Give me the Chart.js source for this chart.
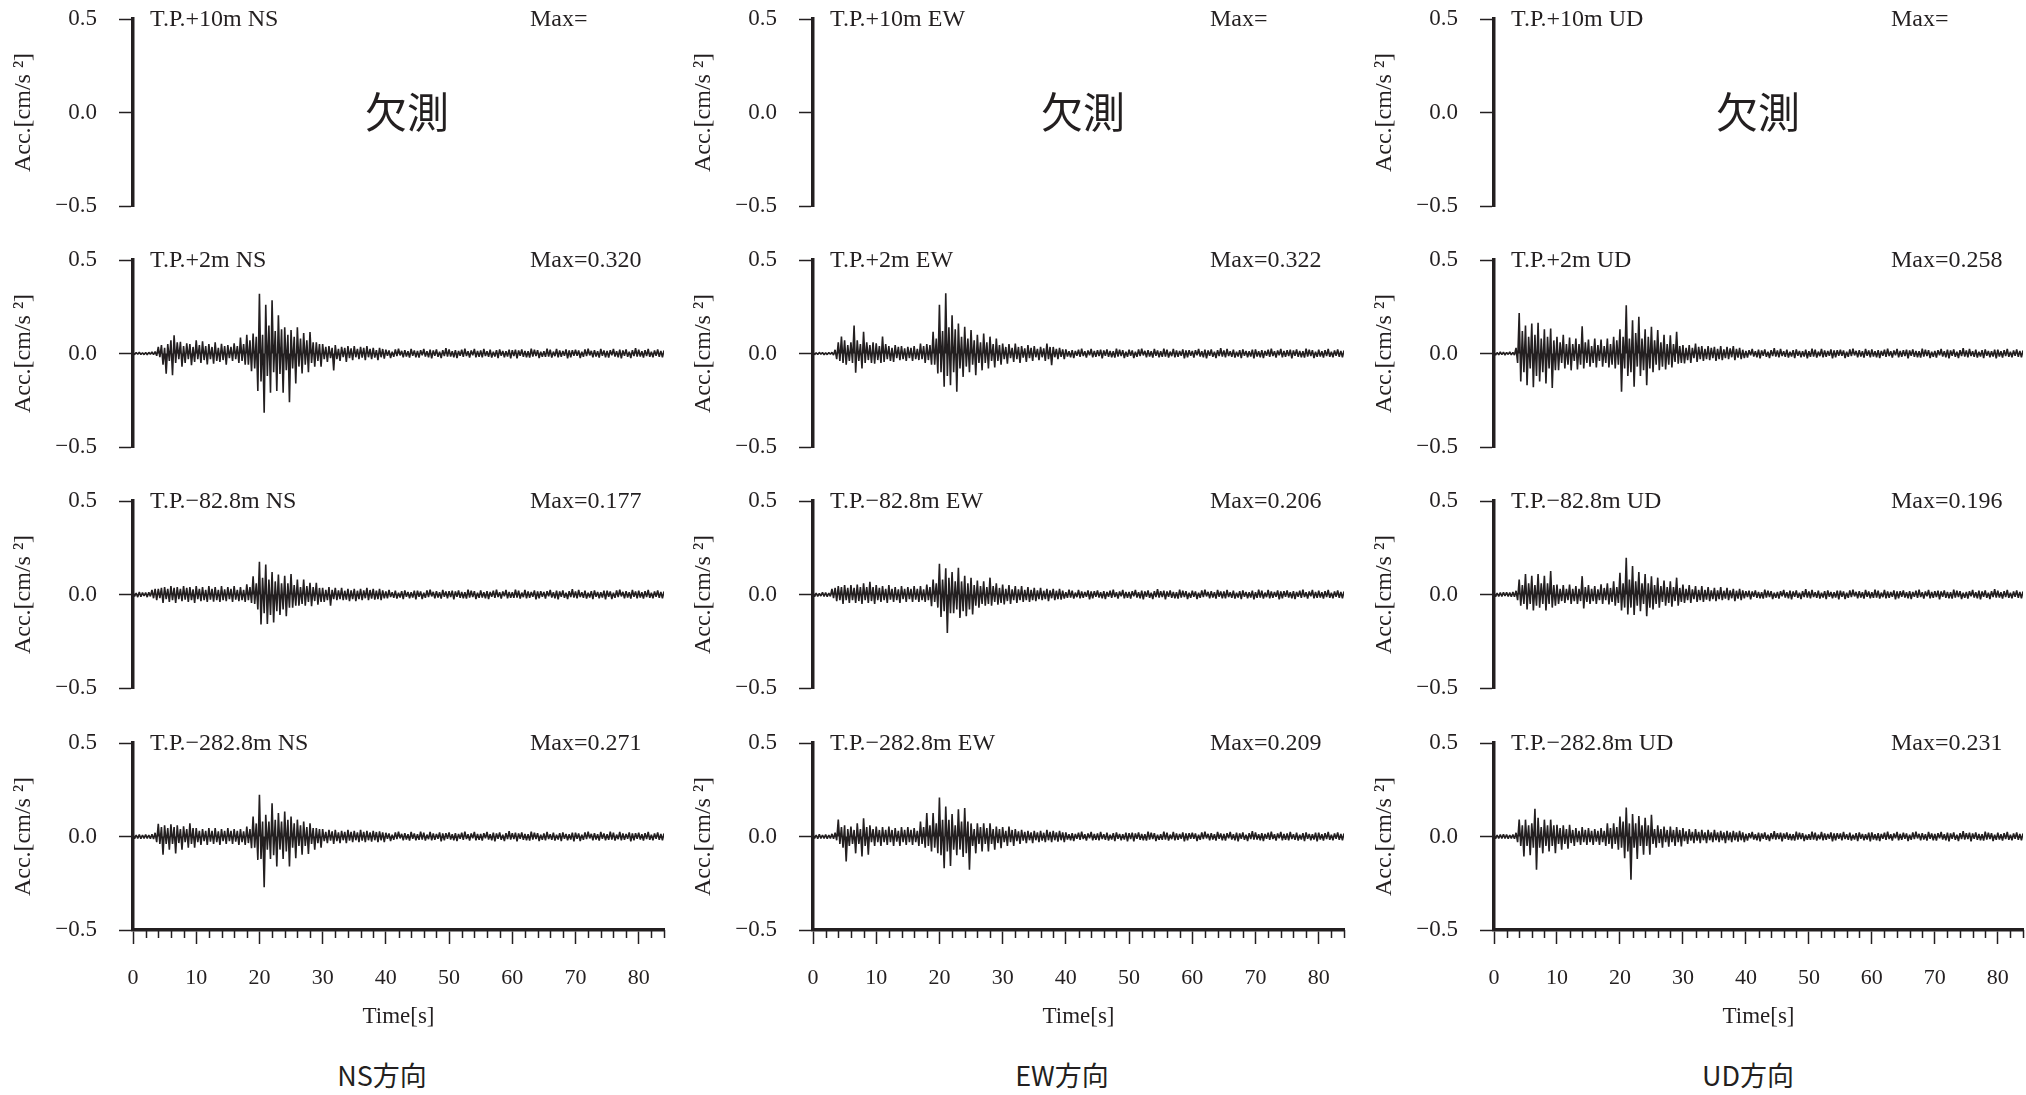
<!DOCTYPE html>
<html><head><meta charset="utf-8">
<script src="https://cdn.jsdelivr.net/npm/chart.js@4.4.1/dist/chart.umd.min.js"></script>
<style>
html,body{margin:0;padding:0;background:#fff;width:2026px;height:1095px;overflow:hidden;position:relative}
canvas{position:absolute}
.col{position:absolute;top:1059px;font-family:"Noto Sans CJK JP";font-size:27px;color:#231f20;transform:translateX(-50%);line-height:32px;white-space:nowrap}
</style></head><body>
<script>
// ---------- data ----------
const timeS = [
0,.25,.5,.75,1,1.25,1.5,1.75,2,2.25,2.5,2.75,3,3.25,3.5,3.75,4,4.25,4.5,4.75,
5,5.25,5.5,5.75,6,6.25,6.5,6.75,7,7.25,7.5,7.75,8,8.25,8.5,8.75,9,9.25,9.5,9.75,
10,10.25,10.5,10.75,11,11.25,11.5,11.75,12,12.25,12.5,12.75,13,13.25,13.5,13.75,14,14.25,14.5,14.75,
15,15.25,15.5,15.75,16,16.25,16.5,16.75,17,17.25,17.5,17.75,18,18.25,18.5,18.75,19,19.25,19.5,19.75,
20,20.25,20.5,20.75,21,21.25,21.5,21.75,22,22.25,22.5,22.75,23,23.25,23.5,23.75,24,24.25,24.5,24.75,
25,25.25,25.5,25.75,26,26.25,26.5,26.75,27,27.25,27.5,27.75,28,28.25,28.5,28.75,29,29.25,29.5,29.75,
30,30.25,30.5,30.75,31,31.25,31.5,31.75,32,32.25,32.5,32.75,33,33.25,33.5,33.75,34,34.25,34.5,34.75,
35,35.25,35.5,35.75,36,36.25,36.5,36.75,37,37.25,37.5,37.75,38,38.25,38.5,38.75,39,39.25,39.5,39.75,
40,40.25,40.5,40.75,41,41.25,41.5,41.75,42,42.25,42.5,42.75,43,43.25,43.5,43.75,44,44.25,44.5,44.75,
45,45.25,45.5,45.75,46,46.25,46.5,46.75,47,47.25,47.5,47.75,48,48.25,48.5,48.75,49,49.25,49.5,49.75,
50,50.25,50.5,50.75,51,51.25,51.5,51.75,52,52.25,52.5,52.75,53,53.25,53.5,53.75,54,54.25,54.5,54.75,
55,55.25,55.5,55.75,56,56.25,56.5,56.75,57,57.25,57.5,57.75,58,58.25,58.5,58.75,59,59.25,59.5,59.75,
60,60.25,60.5,60.75,61,61.25,61.5,61.75,62,62.25,62.5,62.75,63,63.25,63.5,63.75,64,64.25,64.5,64.75,
65,65.25,65.5,65.75,66,66.25,66.5,66.75,67,67.25,67.5,67.75,68,68.25,68.5,68.75,69,69.25,69.5,69.75,
70,70.25,70.5,70.75,71,71.25,71.5,71.75,72,72.25,72.5,72.75,73,73.25,73.5,73.75,74,74.25,74.5,74.75,
75,75.25,75.5,75.75,76,76.25,76.5,76.75,77,77.25,77.5,77.75,78,78.25,78.5,78.75,79,79.25,79.5,79.75,
80,80.25,80.5,80.75,81,81.25,81.5,81.75,82,82.25,82.5,82.75,83,83.25,83.5,83.75,84];

const depths = ['T.P.+10m','T.P.+2m','T.P.\u221282.8m','T.P.\u2212282.8m'];
const components = ['NS','EW','UD'];
const maxValues = [['','',''],['0.320','0.322','0.258'],['0.177','0.206','0.196'],['0.271','0.209','0.231']];
const columnTitles = ['NS方向','EW方向','UD方向'];
const missingText = '欠測';
const xTickLabels = ['0','10','20','30','40','50','60','70','80'];
const yTickValues = [-0.5, 0, 0.5];
const yTickText = ['\u22120.5','0.0','0.5'];
const yTitle = 'Acc.[cm/s \u00b2]';
const xTitle = 'Time[s]';

// quiet-coda segments (5 s each, 0.25 s steps), read as a ~±0.02 band
const coda1 = [.02,-.012,.016,-.024,.01,-.018,.022,-.014,.026,-.01,.014,-.02,.018,-.016,.012,-.022,.024,-.012,.016,-.02];
const coda2 = [.014,-.022,.018,-.01,.024,-.016,.012,-.02,.02,-.026,.016,-.012,.022,-.018,.01,-.024,.018,-.014,.028,-.016];
const coda3 = [.022,-.016,.012,-.02,.018,-.024,.014,-.012,.02,-.018,.026,-.014,.012,-.022,.016,-.01,.024,-.02,.014,-.018];
const coda4 = [.016,-.02,.024,-.014,.012,-.018,.02,-.022,.01,-.016,.018,-.024,.022,-.012,.014,-.02,.012,-.016,.02,-.026];
const coda5 = [.018,-.014,.02,-.026,.016,-.012,.022,-.018,.014,-.02,.012,-.022,.026,-.016,.02,-.014,.018,-.024,.01,-.018];
const coda6 = [.012,-.018,.026,-.016,.02,-.022,.01,-.014,.024,-.02,.016,-.018,.014,-.012,.022,-.026,.016,-.02,.018,-.012];
const codaEnd = [.02,-.016,.012,-.022,.018,-.014,.024,-.018,.01,-.02,.016,-.012,.022,-.018,.014,-.02,.016];

// T.P.+2m, 0-40 s
const ns2Head = [
.004,-.006,.005,-.004,.007,-.005,.004,-.006,.005,-.007,.006,-.004,.008,-.006,.01,-.012,.035,-.02,.045,-.06,
.03,-.108,.05,-.04,.07,-.116,.098,-.05,.06,-.03,.062,-.07,.04,-.05,.055,-.03,.05,-.062,.035,-.045,
.07,-.03,.045,-.05,.065,-.035,.04,-.058,.05,-.03,.035,-.055,.06,-.04,.03,-.045,.052,-.035,.04,-.06,
.045,-.025,.035,-.04,.055,-.03,.04,-.05,.085,-.04,.05,-.06,.1,-.06,.07,-.095,.107,-.08,.09,-.2,
.32,-.15,.1,-.317,.26,-.12,.15,-.21,.285,-.1,.12,-.2,.205,-.11,.13,-.21,.14,-.09,.1,-.26,
.125,-.08,.09,-.16,.14,-.07,.08,-.107,.11,-.06,.07,-.1,.115,-.05,.06,-.07,.06,-.04,.05,-.07,
.05,-.03,.035,-.045,.04,-.025,.03,-.09,.045,-.03,.025,-.04,.035,-.02,.03,-.045,.04,-.025,.028,-.035,
.04,-.02,.025,-.03,.035,-.022,.03,-.035,.04,-.02,.025,-.03,.03,-.022,.018,-.035,.03,-.02,.024,-.028];
const ew2Head = [
.005,-.006,.004,-.005,.006,-.004,.005,-.007,.004,-.006,.005,-.004,.006,-.008,.02,-.03,.06,-.04,.09,-.05,
.07,-.06,.045,-.04,.06,-.05,.15,-.103,.07,-.04,.05,-.08,.116,-.05,.06,-.035,.045,-.05,.06,-.055,
.055,-.035,.04,-.05,.09,-.045,.05,-.03,.04,-.04,.03,-.045,.045,-.025,.035,-.035,.04,-.03,.028,-.04,
.035,-.025,.03,-.04,.04,-.03,.025,-.035,.053,-.03,.04,-.05,.05,-.035,.045,-.06,.116,-.06,.08,-.107,
.26,-.1,.12,-.178,.322,-.12,.14,-.17,.205,-.1,.13,-.205,.16,-.08,.09,-.125,.143,-.07,.08,-.1,
.125,-.06,.07,-.116,.1,-.05,.06,-.09,.107,-.05,.06,-.08,.09,-.04,.05,-.075,.08,-.04,.045,-.06,
.053,-.03,.035,-.055,.05,-.025,.03,-.045,.053,-.03,.035,-.05,.04,-.022,.028,-.045,.045,-.025,.03,-.04,
.04,-.02,.025,-.035,.035,-.02,.028,-.04,.053,-.03,.035,-.062,.035,-.02,.025,-.03,.03,-.018,.022,-.03];
const ud2Head = [
.006,-.008,.005,-.007,.008,-.006,.007,-.008,.006,-.005,.008,-.007,.006,-.008,.03,-.05,.217,-.15,.12,-.1,
.15,-.17,.09,-.08,.16,-.18,.1,-.12,.164,-.15,.08,-.1,.13,-.16,.09,-.08,.134,-.184,.07,-.09,
.09,-.09,.06,-.05,.1,-.08,.05,-.06,.085,-.09,.05,-.04,.08,-.085,.05,-.06,.146,-.08,.06,-.05,
.075,-.07,.04,-.05,.08,-.075,.045,-.04,.075,-.07,.04,-.05,.08,-.075,.05,-.06,.09,-.08,.07,-.06,
.13,-.205,.09,-.08,.258,-.12,.08,-.1,.178,-.178,.11,-.07,.196,-.12,.08,-.09,.13,-.17,.09,-.08,
.143,-.1,.07,-.06,.125,-.09,.06,-.07,.1,-.085,.05,-.06,.098,-.075,.05,-.045,.116,-.055,.04,-.05,
.045,-.053,.03,-.035,.045,-.05,.03,-.025,.053,-.045,.035,-.03,.04,-.04,.025,-.03,.04,-.035,.03,-.025,
.035,-.04,.025,-.03,.04,-.035,.022,-.025,.035,-.03,.028,-.02,.04,-.035,.025,-.022,.03,-.03,.02,-.025];
// T.P.-82.8m, 0-40 s
const ns82Head = [
.012,-.01,.008,-.014,.014,-.012,.01,-.008,.01,-.014,.012,-.01,.025,-.02,.03,-.03,.03,-.02,.035,-.045,
.04,-.025,.03,-.04,.045,-.03,.035,-.045,.04,-.025,.03,-.035,.045,-.028,.035,-.04,.04,-.03,.028,-.045,
.045,-.025,.03,-.035,.04,-.03,.025,-.04,.045,-.028,.03,-.038,.04,-.03,.025,-.04,.045,-.03,.028,-.035,
.04,-.025,.03,-.04,.045,-.028,.025,-.035,.04,-.03,.025,-.04,.055,-.03,.04,-.045,.098,-.05,.06,-.08,
.175,-.16,.09,-.1,.16,-.157,.08,-.11,.12,-.15,.07,-.09,.107,-.11,.06,-.08,.1,-.116,.06,-.07,
.11,-.07,.05,-.06,.08,-.06,.04,-.05,.08,-.06,.045,-.04,.062,-.062,.04,-.035,.062,-.055,.035,-.04,
.035,-.04,.025,-.03,.04,-.06,.025,-.025,.035,-.03,.022,-.025,.035,-.03,.02,-.028,.03,-.035,.022,-.025,
.03,-.035,.02,-.025,.03,-.03,.022,-.02,.035,-.03,.024,-.022,.03,-.028,.02,-.025,.03,-.03,.022,-.02];
const ew82Head = [
.01,-.012,.008,-.01,.006,-.008,.012,-.01,.01,-.012,.008,-.01,.03,-.02,.035,-.035,.045,-.03,.04,-.05,
.05,-.03,.035,-.045,.05,-.03,.035,-.045,.053,-.035,.04,-.05,.06,-.03,.04,-.045,.068,-.035,.04,-.05,
.05,-.03,.035,-.04,.045,-.03,.03,-.045,.05,-.028,.03,-.04,.04,-.03,.028,-.045,.045,-.025,.03,-.04,
.04,-.025,.03,-.04,.045,-.028,.03,-.04,.045,-.03,.028,-.04,.053,-.03,.04,-.062,.08,-.04,.06,-.07,
.164,-.12,.08,-.09,.14,-.206,.09,-.1,.12,-.1,.07,-.08,.143,-.125,.07,-.09,.1,-.116,.06,-.08,
.09,-.107,.05,-.06,.075,-.07,.045,-.05,.07,-.06,.04,-.05,.09,-.06,.045,-.04,.06,-.055,.035,-.045,
.053,-.053,.03,-.035,.05,-.05,.028,-.03,.045,-.045,.028,-.03,.045,-.04,.025,-.03,.04,-.04,.025,-.03,
.035,-.035,.022,-.025,.035,-.03,.02,-.025,.03,-.035,.022,-.02,.03,-.03,.02,-.025,.03,-.028,.02,-.022];
const ud82Head = [
.01,-.012,.008,-.01,.01,-.01,.012,-.008,.012,-.01,.01,-.012,.014,-.012,.02,-.03,.08,-.06,.05,-.05,
.11,-.08,.06,-.05,.1,-.085,.05,-.06,.11,-.07,.06,-.05,.1,-.085,.06,-.05,.125,-.07,.05,-.06,
.053,-.05,.03,-.035,.05,-.045,.03,-.03,.053,-.05,.03,-.035,.045,-.05,.03,-.035,.098,-.075,.04,-.04,
.05,-.05,.03,-.035,.045,-.05,.028,-.03,.055,-.05,.035,-.03,.06,-.053,.035,-.04,.07,-.06,.04,-.045,
.116,-.085,.06,-.07,.196,-.107,.08,-.07,.152,-.11,.07,-.06,.12,-.09,.06,-.05,.11,-.116,.06,-.07,
.098,-.08,.05,-.05,.09,-.07,.045,-.04,.075,-.06,.04,-.045,.07,-.065,.04,-.035,.09,-.06,.035,-.04,
.053,-.045,.03,-.03,.05,-.045,.028,-.025,.045,-.04,.025,-.03,.045,-.04,.025,-.028,.04,-.035,.022,-.025,
.035,-.035,.022,-.025,.04,-.03,.02,-.022,.035,-.03,.022,-.02,.03,-.035,.02,-.022,.03,-.03,.022,-.02];
// T.P.-282.8m, 0-40 s
const ns282Head = [
.01,-.012,.008,-.01,.01,-.012,.008,-.01,.01,-.01,.008,-.012,.012,-.014,.02,-.03,.068,-.04,.05,-.098,
.06,-.04,.045,-.07,.065,-.04,.05,-.09,.06,-.035,.04,-.07,.055,-.03,.04,-.06,.07,-.04,.045,-.06,
.045,-.03,.03,-.045,.04,-.025,.03,-.045,.045,-.028,.03,-.04,.045,-.03,.028,-.045,.04,-.025,.03,-.04,
.045,-.025,.03,-.04,.04,-.028,.03,-.045,.04,-.03,.028,-.045,.053,-.035,.04,-.062,.107,-.06,.07,-.125,
.223,-.12,.08,-.271,.116,-.07,.08,-.12,.178,-.1,.09,-.16,.125,-.07,.08,-.12,.134,-.08,.09,-.16,
.107,-.06,.07,-.116,.09,-.05,.06,-.098,.08,-.05,.05,-.093,.07,-.04,.045,-.07,.045,-.035,.04,-.06,
.04,-.025,.025,-.035,.035,-.022,.028,-.04,.035,-.025,.022,-.035,.03,-.02,.025,-.035,.035,-.022,.025,-.03,
.03,-.02,.022,-.03,.035,-.022,.025,-.03,.03,-.02,.022,-.028,.03,-.02,.024,-.03,.028,-.02,.022,-.03];
const ew282Head = [
.01,-.01,.008,-.012,.012,-.01,.008,-.01,.01,-.012,.008,-.01,.014,-.012,.02,-.02,.09,-.04,.05,-.06,
.06,-.134,.04,-.05,.053,-.04,.035,-.09,.07,-.04,.04,-.107,.098,-.05,.05,-.098,.06,-.03,.04,-.05,
.053,-.03,.035,-.05,.05,-.03,.035,-.045,.053,-.03,.035,-.05,.045,-.028,.03,-.05,.05,-.03,.035,-.045,
.05,-.03,.035,-.045,.045,-.03,.03,-.05,.08,-.04,.05,-.06,.125,-.05,.06,-.08,.125,-.06,.07,-.09,
.209,-.1,.09,-.17,.16,-.08,.09,-.157,.12,-.07,.06,-.1,.146,-.07,.08,-.11,.152,-.09,.08,-.178,
.07,-.05,.04,-.09,.07,-.04,.05,-.08,.07,-.04,.045,-.08,.07,-.04,.04,-.07,.053,-.035,.04,-.062,
.05,-.03,.03,-.05,.053,-.03,.035,-.05,.04,-.025,.028,-.04,.035,-.022,.025,-.035,.03,-.02,.022,-.035,
.03,-.02,.022,-.03,.03,-.022,.02,-.03,.035,-.02,.025,-.03,.03,-.02,.022,-.028,.03,-.02,.022,-.03];
const ud282Head = [
.01,-.012,.008,-.01,.01,-.01,.012,-.01,.01,-.012,.008,-.01,.01,-.012,.02,-.03,.09,-.05,.06,-.107,
.09,-.05,.06,-.1,.07,-.06,.148,-.178,.1,-.06,.05,-.09,.09,-.05,.06,-.08,.09,-.05,.06,-.09,
.062,-.04,.045,-.07,.06,-.04,.04,-.065,.062,-.035,.035,-.05,.045,-.03,.03,-.045,.05,-.03,.035,-.045,
.045,-.03,.03,-.045,.04,-.028,.03,-.045,.045,-.03,.03,-.05,.07,-.04,.045,-.065,.07,-.04,.05,-.07,
.107,-.06,.08,-.116,.155,-.08,.07,-.231,.12,-.06,.07,-.12,.11,-.05,.06,-.098,.1,-.05,.06,-.098,
.116,-.04,.04,-.06,.06,-.035,.04,-.06,.053,-.03,.035,-.055,.053,-.03,.035,-.05,.05,-.03,.035,-.053,
.045,-.025,.028,-.04,.04,-.022,.025,-.035,.04,-.022,.025,-.035,.035,-.02,.022,-.035,.035,-.02,.022,-.03,
.035,-.02,.022,-.03,.03,-.02,.022,-.035,.03,-.02,.022,-.03,.03,-.02,.022,-.028,.03,-.02,.022,-.03];

// full records: 0-40 s head + 40-84 s coda segments
const ns2   = [...ns2Head,   ...coda1, ...coda2, ...coda3, ...coda4, ...coda5, ...coda6, ...coda1, ...coda2, ...codaEnd];
const ew2   = [...ew2Head,   ...coda3, ...coda5, ...coda1, ...coda6, ...coda2, ...coda4, ...coda3, ...coda5, ...codaEnd];
const ud2   = [...ud2Head,   ...coda2, ...coda4, ...coda6, ...coda1, ...coda3, ...coda5, ...coda2, ...coda4, ...codaEnd];
const ns82  = [...ns82Head,  ...coda4, ...coda1, ...coda5, ...coda3, ...coda6, ...coda2, ...coda4, ...coda1, ...codaEnd];
const ew82  = [...ew82Head,  ...coda6, ...coda3, ...coda2, ...coda5, ...coda1, ...coda4, ...coda6, ...coda3, ...codaEnd];
const ud82  = [...ud82Head,  ...coda5, ...coda2, ...coda4, ...coda1, ...coda6, ...coda3, ...coda5, ...coda2, ...codaEnd];
const ns282 = [...ns282Head, ...coda1, ...coda6, ...coda3, ...coda2, ...coda5, ...coda4, ...coda1, ...coda6, ...codaEnd];
const ew282 = [...ew282Head, ...coda3, ...coda4, ...coda5, ...coda6, ...coda1, ...coda2, ...coda3, ...coda4, ...codaEnd];
const ud282 = [...ud282Head, ...coda2, ...coda5, ...coda6, ...coda4, ...coda3, ...coda1, ...coda2, ...coda5, ...codaEnd];

const traces = [
  [null, null, null],
  [ns2, ew2, ud2],
  [ns82, ew82, ud82],
  [ns282, ew282, ud282]
];
traces.forEach((r, ri) => r.forEach((s, ci) => {
  if (s && s.length !== timeS.length) throw new Error('length mismatch row ' + ri + ' col ' + ci + ': ' + s.length + ' vs ' + timeS.length);
}));

// ---------- layout ----------
const INK = '#231f20';
const SERIF = '"Liberation Serif", "Times New Roman", serif';
const colLefts = [0, 680, 1361];
const canvasW = [667, 667, 665];
const rowTops = [0, 241, 482, 724];
const missX = [274, 270, 264];

const panelText = {
  id: 'panelText',
  afterDraw(chart, args, opts) {
    const {ctx, chartArea, scales} = chart;
    ctx.save();
    ctx.fillStyle = INK;
    ctx.font = '24px ' + SERIF;
    ctx.textBaseline = 'middle';
    ctx.textAlign = 'left';
    ctx.fillText(opts.station, chartArea.left + 17, chartArea.top + 1);
    ctx.fillText(opts.max, chartArea.left + 397, chartArea.top + 1);
    if (opts.missing) {
      ctx.font = '42px "Noto Sans CJK JP"';
      ctx.textAlign = 'center';
      ctx.fillText(opts.missing, chartArea.left + opts.missX, scales.y.getPixelForValue(0));
    }
    if (opts.minorTicks) {
      const xs = scales.x;
      ctx.strokeStyle = INK;
      ctx.lineWidth = 1.5;
      for (let v = 2; v <= 84; v += 2) {
        if (v % 10 === 0) continue;
        const px = Math.round(xs.getPixelForValue(v)) + 0.5;
        ctx.beginPath();
        ctx.moveTo(px, xs.top);
        ctx.lineTo(px, xs.top + 8);
        ctx.stroke();
      }
    }
    ctx.restore();
  }
};
Chart.register(panelText);

function makeChart(row, col) {
  const isBottom = row === 3;
  const cv = document.createElement('canvas');
  const h = isBottom ? 316 : 220;
  cv.width = canvasW[col];
  cv.height = h;
  cv.style.left = colLefts[col] + 'px';
  cv.style.top = rowTops[row] + 'px';
  cv.style.width = canvasW[col] + 'px';
  cv.style.height = h + 'px';
  document.body.appendChild(cv);
  const series = traces[row][col];
  const pts = series ? timeS.map((t, i) => ({x: t, y: series[i]})) : [];
  new Chart(cv, {
    type: 'line',
    data: {datasets: [{data: pts, borderColor: INK, backgroundColor: INK, borderWidth: 1.6, borderJoinStyle: 'bevel', pointRadius: 0, tension: 0, fill: 'origin'}]},
    options: {
      responsive: false, animation: false, devicePixelRatio: 1, events: [],
      layout: {padding: {top: 19, bottom: isBottom ? 0 : 14, left: 0, right: 3}},
      plugins: {
        legend: {display: false}, tooltip: {enabled: false}, title: {display: false},
        filler: {propagate: false},
        panelText: {
          station: depths[row] + ' ' + components[col],
          max: 'Max=' + maxValues[row][col],
          missing: series ? '' : missingText,
          missX: missX[col],
          minorTicks: isBottom
        }
      },
      scales: {
        x: {
          type: 'linear', min: 0, max: 84, display: isBottom,
          afterFit(s) { if (isBottom) s.height = 110; s.paddingLeft = 0; s.paddingRight = 0; },
          ticks: {
            stepSize: 10, includeBounds: false, autoSkip: false, maxRotation: 0, minRotation: 0,
            padding: 21, color: INK, font: {family: SERIF, size: 22},
            callback: (v) => { const i = Math.round(v / 10); return (v % 10 === 0 && xTickLabels[i] !== undefined) ? xTickLabels[i] : ''; }
          },
          grid: {display: true, drawOnChartArea: false, drawTicks: true, tickLength: 14, tickWidth: 1.5, tickColor: INK},
          border: {display: true, width: 3.5, color: INK},
          title: {display: true, text: xTitle, color: INK, font: {family: SERIF, size: 23, lineHeight: 1.2}, padding: {top: 0, bottom: 9}}
        },
        y: {
          type: 'linear', min: -0.5, max: 0.5,
          afterFit(s) { s.width = 133; s.paddingTop = 0; s.paddingBottom = 0; },
          ticks: {
            stepSize: 0.5, padding: 22, color: INK, font: {family: SERIF, size: 23},
            callback: (v) => { const i = yTickValues.findIndex(t => Math.abs(t - v) < 1e-9); return i >= 0 ? yTickText[i] : ''; }
          },
          grid: {display: true, drawOnChartArea: false, drawTicks: true, tickLength: 14, tickWidth: 1.5, tickColor: INK},
          border: {display: true, width: 3.5, color: INK},
          title: {display: true, text: yTitle, color: INK, font: {family: SERIF, size: 24, lineHeight: 1.2}, padding: {top: 9, bottom: 0}}
        }
      }
    }
  });
}

for (let r = 0; r < 4; r++) for (let c = 0; c < 3; c++) makeChart(r, c);

const colCenters = [382, 1062, 1748];
columnTitles.forEach((t, i) => {
  const d = document.createElement('div');
  d.className = 'col';
  d.style.left = colCenters[i] + 'px';
  d.textContent = t;
  document.body.appendChild(d);
});
</script>
</body></html>
